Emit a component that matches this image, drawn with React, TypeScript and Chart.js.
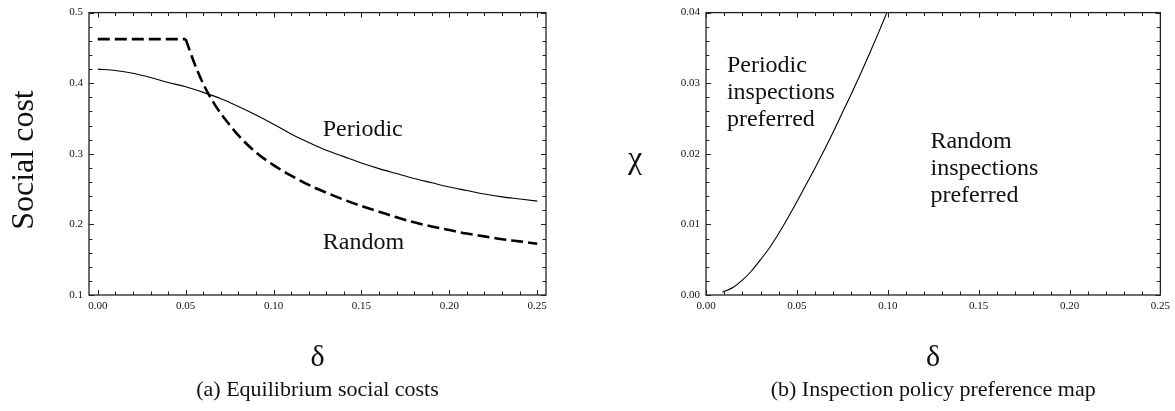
import { useEffect, useRef } from "react";
import { Chart, registerables } from "chart.js";

Chart.register(...registerables);

// ---------- data ----------
const deltaPeriodic = [0, 0.01, 0.02, 0.03, 0.04, 0.05, 0.06, 0.07, 0.08, 0.09, 0.1, 0.11, 0.12, 0.13, 0.14, 0.15, 0.16, 0.17, 0.18, 0.19, 0.2, 0.21, 0.22, 0.23, 0.24, 0.25];
const costPeriodic = [0.42, 0.418, 0.414, 0.408, 0.401, 0.395, 0.387, 0.378, 0.367, 0.355, 0.342, 0.328, 0.316, 0.305, 0.296, 0.287, 0.279, 0.272, 0.265, 0.259, 0.253, 0.248, 0.243, 0.239, 0.236, 0.233];

// Random: flat (capped) part, then decreasing part from the kink at 0.05
const deltaRandomFlat = [0, 0.05];
const costRandomFlat = [0.4625, 0.4625];
const deltaRandom = [0.05, 0.055, 0.06, 0.065, 0.07, 0.075, 0.08, 0.09, 0.1, 0.11, 0.12, 0.13, 0.14, 0.15, 0.16, 0.17, 0.18, 0.19, 0.2, 0.21, 0.22, 0.23, 0.24, 0.25];
const costRandom = [0.4625, 0.428, 0.399, 0.376, 0.357, 0.341, 0.326, 0.302, 0.284, 0.269, 0.256, 0.245, 0.235, 0.226, 0.218, 0.21, 0.203, 0.197, 0.192, 0.187, 0.183, 0.179, 0.176, 0.1725];

const deltaBoundary = [0.009, 0.015, 0.02, 0.025, 0.03, 0.035, 0.04, 0.045, 0.05, 0.055, 0.06, 0.065, 0.07, 0.075, 0.08, 0.085, 0.09, 0.095, 0.0995];
const chiBoundary = [0.0004, 0.0011, 0.0021, 0.0034, 0.005, 0.0067, 0.0087, 0.0109, 0.0132, 0.0156, 0.018, 0.0205, 0.0231, 0.0258, 0.0285, 0.0313, 0.0342, 0.0372, 0.04];

const xMajorTicks = [0, 0.05, 0.1, 0.15, 0.2, 0.25];
const xMinorTicks = [0, 0.01, 0.02, 0.03, 0.04, 0.05, 0.06, 0.07, 0.08, 0.09, 0.1, 0.11, 0.12, 0.13, 0.14, 0.15, 0.16, 0.17, 0.18, 0.19, 0.2, 0.21, 0.22, 0.23, 0.24, 0.25];
const yMajorTicksA = [0.1, 0.2, 0.3, 0.4, 0.5];
const yMinorTicksA = [0.1, 0.12, 0.14, 0.16, 0.18, 0.2, 0.22, 0.24, 0.26, 0.28, 0.3, 0.32, 0.34, 0.36, 0.38, 0.4, 0.42, 0.44, 0.46, 0.48, 0.5];
const yMajorTicksB = [0, 0.01, 0.02, 0.03, 0.04];
const yMinorTicksB = [0, 0.002, 0.004, 0.006, 0.008, 0.01, 0.012, 0.014, 0.016, 0.018, 0.02, 0.022, 0.024, 0.026, 0.028, 0.03, 0.032, 0.034, 0.036, 0.038, 0.04];

const SERIF = "'Liberation Serif', 'Times New Roman', serif";

type Note = { lines: string[]; x: number; y: number };

function isMajor(v: number, majors: number[]) {
  return majors.some((m) => Math.abs(m - v) < 1e-9);
}

const framePlugin = {
  id: "frame",
  afterDatasetsDraw(chart: any, _args: any, opts: any) {
    const { ctx, chartArea: a, scales } = chart;
    const x = scales.x;
    const y = scales.y;
    ctx.save();
    ctx.strokeStyle = "#222";
    ctx.lineWidth = 1.3;
    ctx.strokeRect(a.left, a.top, a.right - a.left, a.bottom - a.top);
    ctx.lineWidth = 1;
    ctx.beginPath();
    for (const v of opts.xMinor) {
      const px = Math.round(x.getPixelForValue(v)) + 0.5;
      const len = isMajor(v, opts.xMajor) ? 5 : 3.5;
      ctx.moveTo(px, a.bottom);
      ctx.lineTo(px, a.bottom - len);
      ctx.moveTo(px, a.top);
      ctx.lineTo(px, a.top + len);
    }
    for (const v of opts.yMinor) {
      const py = Math.round(y.getPixelForValue(v)) + 0.5;
      const len = isMajor(v, opts.yMajor) ? 5 : 3.5;
      ctx.moveTo(a.left, py);
      ctx.lineTo(a.left + len, py);
      ctx.moveTo(a.right, py);
      ctx.lineTo(a.right - len, py);
    }
    ctx.stroke();

    // annotations inside plot
    ctx.fillStyle = "#111";
    ctx.font = `24px ${SERIF}`;
    ctx.textAlign = "left";
    ctx.textBaseline = "alphabetic";
    for (const n of opts.notes as Note[]) {
      const px = x.getPixelForValue(n.x);
      const py = y.getPixelForValue(n.y);
      n.lines.forEach((t, i) => ctx.fillText(t, px, py + i * 27));
    }

    // axis titles and caption
    const cx = (a.left + a.right) / 2;
    ctx.textAlign = "center";
    ctx.font = `30px ${SERIF}`;
    ctx.fillText("δ", cx, 366);
    ctx.font = `22px ${SERIF}`;
    ctx.fillText(opts.caption, cx, 396);
    if (opts.yTitleRotated) {
      ctx.save();
      ctx.font = `32px ${SERIF}`;
      ctx.translate(opts.yTitleX, opts.yTitleY);
      ctx.rotate(-Math.PI / 2);
      ctx.fillText(opts.yTitle, 0, 0);
      ctx.restore();
    } else {
      ctx.font = `32px ${SERIF}`;
      ctx.fillText(opts.yTitle, opts.yTitleX, opts.yTitleY);
    }
    ctx.restore();
  },
};

function makeConfig(p: {
  datasets: any[];
  xMin: number;
  xMax: number;
  yMin: number;
  yMax: number;
  yMajor: number[];
  yMinor: number[];
  yDigits: number;
  yAxisWidth: number;
  rightPad: number;
  notes: Note[];
  caption: string;
  yTitle: string;
  yTitleX: number;
  yTitleY: number;
  yTitleRotated: boolean;
}) {
  return {
    type: "line",
    data: { datasets: p.datasets },
    plugins: [framePlugin],
    options: {
      animation: false,
      responsive: false,
      layout: { padding: { left: 0, right: p.rightPad, top: 10, bottom: 96 } },
      plugins: {
        legend: { display: false },
        tooltip: { enabled: false },
        frame: {
          xMajor: xMajorTicks,
          xMinor: xMinorTicks,
          yMajor: p.yMajor,
          yMinor: p.yMinor,
          notes: p.notes,
          caption: p.caption,
          yTitle: p.yTitle,
          yTitleX: p.yTitleX,
          yTitleY: p.yTitleY,
          yTitleRotated: p.yTitleRotated,
        },
      },
      elements: { point: { radius: 0 } },
      scales: {
        x: {
          type: "linear",
          min: p.xMin,
          max: p.xMax,
          grid: { display: false, drawTicks: false },
          border: { display: false },
          afterBuildTicks: (s: any) => {
            s.ticks = xMajorTicks.map((v) => ({ value: v }));
          },
          afterFit: (s: any) => {
            s.height = 20;
          },
          ticks: {
            padding: 5,
            color: "#111",
            font: { family: SERIF, size: 11 },
            maxRotation: 0,
            autoSkip: false,
            callback: (v: any) => Number(v).toFixed(2),
          },
        },
        y: {
          type: "linear",
          min: p.yMin,
          max: p.yMax,
          grid: { display: false, drawTicks: false },
          border: { display: false },
          afterBuildTicks: (s: any) => {
            s.ticks = p.yMajor.map((v) => ({ value: v }));
          },
          afterFit: (s: any) => {
            s.width = p.yAxisWidth;
          },
          ticks: {
            padding: 6,
            color: "#111",
            font: { family: SERIF, size: 11 },
            autoSkip: false,
            callback: (v: any) => Number(v).toFixed(p.yDigits),
          },
        },
      },
    },
  };
}

export default function App() {
  const refA = useRef<HTMLCanvasElement>(null);
  const refB = useRef<HTMLCanvasElement>(null);

  useEffect(() => {
    const dashed = {
      borderColor: "#000",
      borderWidth: 2.6,
      borderDash: [12, 5],
      cubicInterpolationMode: "monotone",
      fill: false,
    };
    const chartA = new Chart(
      refA.current as HTMLCanvasElement,
      makeConfig({
        datasets: [
          {
            label: "Periodic",
            data: deltaPeriodic.map((d, i) => ({ x: d, y: costPeriodic[i] })),
            borderColor: "#000",
            borderWidth: 1.1,
            cubicInterpolationMode: "monotone",
            fill: false,
          },
          {
            label: "Random (capped)",
            data: deltaRandomFlat.map((d, i) => ({ x: d, y: costRandomFlat[i] })),
            ...dashed,
          },
          {
            label: "Random",
            data: deltaRandom.map((d, i) => ({ x: d, y: costRandom[i] })),
            ...dashed,
          },
        ],
        xMin: -0.005,
        xMax: 0.255,
        yMin: 0.1,
        yMax: 0.5,
        yMajor: yMajorTicksA,
        yMinor: yMinorTicksA,
        yDigits: 1,
        yAxisWidth: 89,
        rightPad: 44,
        notes: [
          { lines: ["Periodic"], x: 0.128, y: 0.325 },
          { lines: ["Random"], x: 0.128, y: 0.1655 },
        ],
        caption: "(a) Equilibrium social costs",
        yTitle: "Social cost",
        yTitleX: 33,
        yTitleY: 160,
        yTitleRotated: true,
      }) as any
    );
    const chartB = new Chart(
      refB.current as HTMLCanvasElement,
      makeConfig({
        datasets: [
          {
            label: "Boundary",
            data: deltaBoundary.map((d, i) => ({ x: d, y: chiBoundary[i] })),
            borderColor: "#000",
            borderWidth: 1.1,
            cubicInterpolationMode: "monotone",
            fill: false,
          },
        ],
        xMin: 0,
        xMax: 0.25,
        yMin: 0,
        yMax: 0.04,
        yMajor: yMajorTicksB,
        yMinor: yMinorTicksB,
        yDigits: 2,
        yAxisWidth: 116,
        rightPad: 14,
        notes: [
          { lines: ["Periodic", "inspections", "preferred"], x: 0.0115, y: 0.0316 },
          { lines: ["Random", "inspections", "preferred"], x: 0.1235, y: 0.0208 },
        ],
        caption: "(b) Inspection policy preference map",
        yTitle: "χ",
        yTitleX: 45,
        yTitleY: 168,
        yTitleRotated: false,
      }) as any
    );
    return () => {
      chartA.destroy();
      chartB.destroy();
    };
  }, []);

  return (
    <div
      style={{
        position: "absolute",
        left: 0,
        top: 0,
        width: 1175,
        height: 411,
        background: "#fff",
        overflow: "hidden",
      }}
    >
      <canvas ref={refA} width={590} height={411} style={{ position: "absolute", left: 0, top: 0 }} />
      <canvas ref={refB} width={585} height={411} style={{ position: "absolute", left: 590, top: 0 }} />
    </div>
  );
}
